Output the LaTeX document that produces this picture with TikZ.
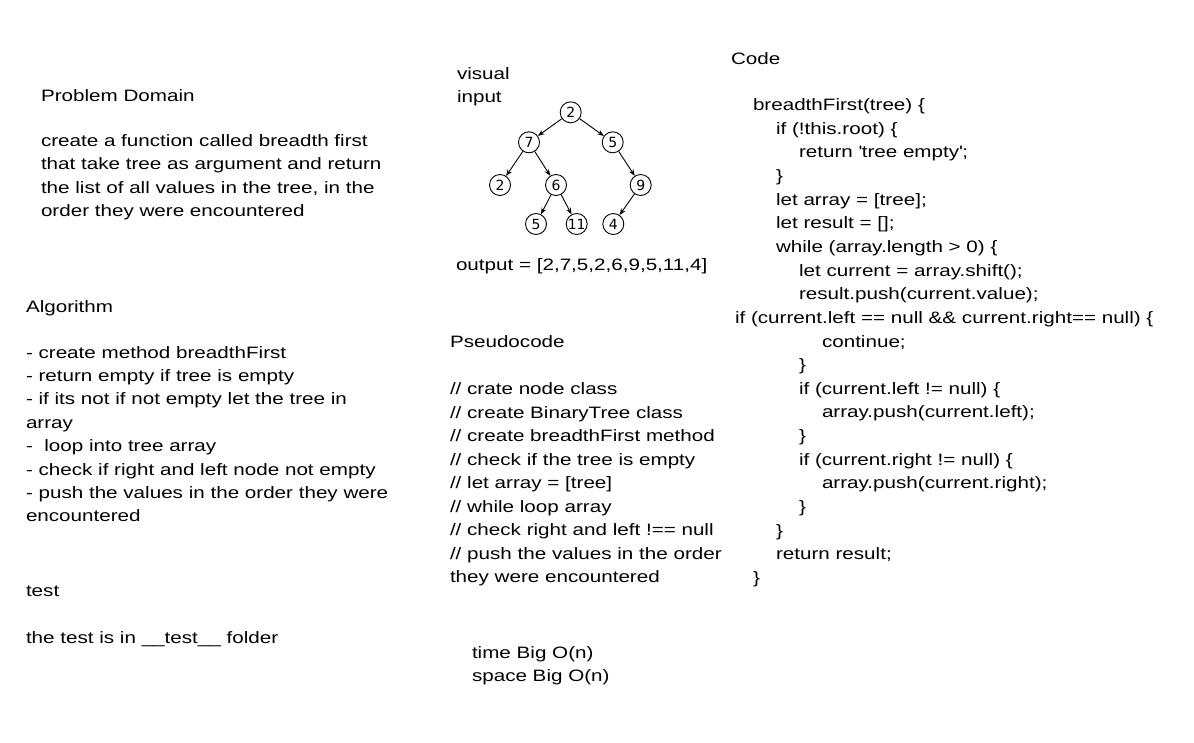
\documentclass[tikz,border=0pt]{standalone}
\usepackage{fontspec}
\setmainfont[FakeStretch=1.25]{Liberation Sans}
\newfontfamily\treefont{DejaVu Sans}
\usetikzlibrary{arrows.meta}
\tikzset{
  txt/.style={anchor=base west, inner sep=0pt, outer sep=0pt, yshift=-2pt, font=\fontsize{16.5}{23.5}\selectfont},
  tnode/.style={circle, draw, line width=0.9pt, minimum size=21pt, inner sep=0pt, font=\treefont\fontsize{14}{16}\selectfont},
  tedge/.style={line width=0.9pt, -{Stealth[length=6.5pt,width=5pt]}}
}
\begin{document}
\begin{tikzpicture}[x=1pt,y=-1pt]
\useasboundingbox[fill=white] (0,0) rectangle (1194,742);
% Problem domain
\node[txt] (pd) at (41,99) {Problem Domain};
\node[txt] (pd1) at (41,144) {create a function called breadth first};
\node[txt] (pd2) at (41,167.5) {that take tree as argument and return};
\node[txt] (pd3) at (41,191) {the list of all values in the tree, in the};
\node[txt] (pd4) at (41,214.5) {order they were encountered};
% Algorithm
\node[txt] (al) at (26,310) {Algorithm};
\node[txt] (al1) at (26,356) {- create method breadthFirst};
\node[txt] (al2) at (26,379.4) {- return empty if tree is empty};
\node[txt] (al3) at (26,402.8) {- if its not if not empty let the tree in};
\node[txt] (al4) at (26,426.2) {array};
\node[txt] (al5) at (26,449.6) {-\ \ loop into tree array};
\node[txt] (al6) at (26,473) {- check if right and left node not empty};
\node[txt] (al7) at (26,496.4) {- push the values in the order they were};
\node[txt] (al8) at (26,519.8) {encountered};
% test
\node[txt] (te) at (26,594.5) {test};
\node[txt] (te1) at (26,641.5) {the test is in \_\_test\_\_ folder};
% visual
\node[txt] (vi1) at (457,77.5) {visual};
\node[txt] (vi2) at (457,100.5) {input};
\node[tnode] (n2) at (570.7,112.3) {2};
\node[tnode] (n7) at (529,142.3) {7};
\node[tnode] (n5) at (612.7,142.3) {5};
\node[tnode] (n2b) at (500,185) {2};
\node[tnode] (n6) at (556,185) {6};
\node[tnode] (n9) at (640.7,185) {9};
\node[tnode] (n5b) at (536,224) {5};
\node[tnode] (n11) at (576.7,224) {11};
\node[tnode] (n4) at (613.3,224) {4};
\draw[tedge] (n2) -- (n7);
\draw[tedge] (n2) -- (n5);
\draw[tedge] (n7) -- (n2b);
\draw[tedge] (n7) -- (n6);
\draw[tedge] (n5) -- (n9);
\draw[tedge] (n6) -- (n5b);
\draw[tedge] (n6) -- (n11);
\draw[tedge] (n9) -- (n4);
\node[txt] (out) at (456,268.5) {output = [2,7,5,2,6,9,5,11,4]};
% Pseudocode
\node[txt] (ps) at (450,345.5) {Pseudocode};
\node[txt] (ps1) at (450,392.5) {// crate node class};
\node[txt] (ps2) at (450,416) {// create BinaryTree class};
\node[txt] (ps3) at (450,439.5) {// create breadthFirst method};
\node[txt] (ps4) at (450,463) {// check if the tree is empty};
\node[txt] (ps5) at (450,486.5) {// let array = [tree]};
\node[txt] (ps6) at (450,510) {// while loop array};
\node[txt] (ps7) at (450,533.5) {// check right and left !== null};
\node[txt] (ps8) at (450,557) {// push the values in the order};
\node[txt] (ps9) at (450,580.5) {they were encountered};
\node[txt] (bo1) at (472,656.5) {time Big O(n)};
\node[txt] (bo2) at (472,679.5) {space Big O(n)};
% Code
\node[txt] (co) at (731,62.5) {Code};
\node[txt] (c1) at (753,108.5) {breadthFirst(tree) \{};
\node[txt] (c2) at (776,132.15) {if (!this.root) \{};
\node[txt] (c3) at (799,155.8) {return \textquotesingle tree empty\textquotesingle;};
\node[txt] (c4) at (776,179.45) {\}};
\node[txt] (c5) at (776,203.1) {let array = [tree];};
\node[txt] (c6) at (776,226.75) {let result = [];};
\node[txt] (c7) at (776,250.4) {while (array.length > 0) \{};
\node[txt] (c8) at (799,274.05) {let current = array.shift();};
\node[txt] (c9) at (799,297.7) {result.push(current.value);};
\node[txt] (c10) at (735,321.35) {if (current.left == null \&\& current.right== null) \{};
\node[txt] (c11) at (822,345) {continue;};
\node[txt] (c12) at (799,368.65) {\}};
\node[txt] (c13) at (799,392.3) {if (current.left != null) \{};
\node[txt] (c14) at (822,415.95) {array.push(current.left);};
\node[txt] (c15) at (799,439.6) {\}};
\node[txt] (c16) at (799,463.25) {if (current.right != null) \{};
\node[txt] (c17) at (822,486.9) {array.push(current.right);};
\node[txt] (c18) at (799,510.55) {\}};
\node[txt] (c19) at (776,534.2) {\}};
\node[txt] (c20) at (776,557.85) {return result;};
\node[txt] (c21) at (753,581.5) {\}};
\end{tikzpicture}
\end{document}
